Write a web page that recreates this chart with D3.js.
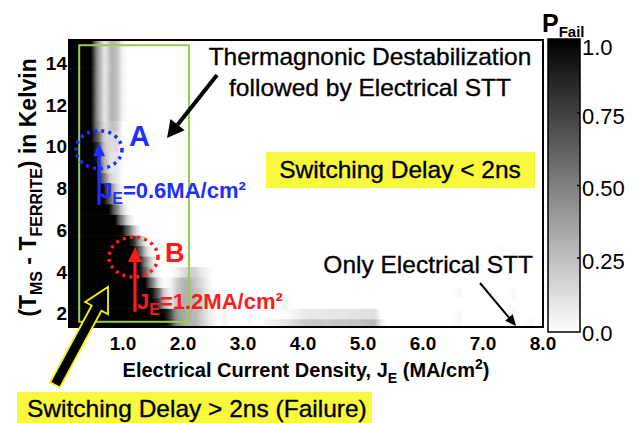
<!DOCTYPE html>
<html>
<head>
<meta charset="utf-8">
<script src="https://cdn.jsdelivr.net/npm/d3@7"></script>
<style>
  html, body { margin: 0; padding: 0; background: #fff; }
  svg { display: block; font-family: "Liberation Sans", Arial, sans-serif; }
  text { white-space: pre; }
</style>
</head>
<body>
<svg id="chart" width="636" height="423"></svg>
<script>
// Temperature offset rows (K) and current-density columns (MA/cm^2) of the failure map
const deltaT = [1.5, 2.0, 2.5, 3.0, 3.5, 4.0, 4.5, 5.0, 5.5, 6.0, 6.5, 7.0, 7.5, 8.0,
                8.5, 9.0, 9.5, 10.0, 10.5, 11.0, 11.5, 12.0, 12.5, 13.0, 13.5, 14.0, 14.5, 15.0];
const currentDensity = [0.1, 0.2, 0.3, 0.4, 0.5, 0.6, 0.7, 0.8, 0.9, 1.0,
                        1.1, 1.2, 1.3, 1.4, 1.5, 1.6, 1.7, 1.8, 1.9, 2.0,
                        2.1, 2.2, 2.3, 2.4, 2.5, 2.6, 2.7, 2.8, 2.9, 3.0,
                        3.1, 3.2, 3.3, 3.4, 3.5, 3.6, 3.7, 3.8, 3.9, 4.0,
                        4.1, 4.2, 4.3, 4.4, 4.5, 4.6, 4.7, 4.8, 4.9, 5.0,
                        5.1, 5.2, 5.3, 5.4, 5.5, 5.6, 5.7, 5.8, 5.9, 6.0,
                        6.1, 6.2, 6.3, 6.4, 6.5, 6.6, 6.7, 6.8, 6.9, 7.0,
                        7.1, 7.2, 7.3, 7.4, 7.5, 7.6, 7.7, 7.8, 7.9, 8.0];

// Failure probability per deltaT row, listed from J = 0.1 upward; columns not listed are 0
const pFailLeading = [
  [1,1,1,1,1,1,1,1,1,1,1,1,1,1,1,1,1, .85,.45,.35,.3,.3,.22,.12,.05],   // 1.5
  [1,1,1,1,1,1,1,1,1,1,1,1,1,1,1,1,1, .75,.4,.35,.3,.28,.2,.1,.04],     // 2.0
  [1,1,1,1,1,1,1,1,1,1,1,1,1,1,1, .8,.3,.1,.25,.32,.3,.28,.2,.1,.04],   // 2.5
  [1,1,1,1,1,1,1,1,1,1,1,1,1,1,1, .6,.15,.05,.2,.3,.3,.25,.18,.08],     // 3.0
  [1,1,1,1,1,1,1,1,1,1,1,1,1,1, .5,.1,0,.05,.2,.3,.3,.22,.15,.06],      // 3.5
  [1,1,1,1,1,1,1,1,1,1,1,1,1, .55,.15,0,0,0,.05,.12,.2,.18,.1,.04],     // 4.0
  [1,1,1,1,1,1,1,1,1,1,1,1,1, .4,.1],                                   // 4.5
  [1,1,1,1,1,1,1,1,1,1,1,1, .6,.15],                                    // 5.0
  [1,1,1,1,1,1,1,1,1,1,1, .8,.3],                                       // 5.5
  [1,1,1,1,1,1,1,1,1,1, .6,.2],                                         // 6.0
  [1,1,1,1,1,1,1,1,1, .45,.1],                                          // 6.5
  [1,1,1,1,1,1,1,1, .5,.15],                                            // 7.0
  [1,1,1,1,1,1,1, .6,.2],                                               // 7.5
  [1,1,1,1,1,1,1, .5,.15],                                              // 8.0
  [1,1,1,1,1,1, .5,.15,.1],                                             // 8.5
  [1,1,1,1,1,1, .3,.1,.1],                                              // 9.0
  [1,1,1,1,1, .9,.25,.1,.12],                                           // 9.5
  [1,1,1,1,1, .8,.2,.12,.15],                                           // 10.0
  [1,1,1,1,1, .6,.15,.15,.15],                                          // 10.5
  [1,1,1,1,1, .4,.1,.25,.2],                                            // 11.0
  [1,1,1,1,1, .35,.08,.3,.25,.03],                                      // 11.5
  [1,1,1,1,1, .35,.08,.3,.25,.03],                                      // 12.0
  [1,1,1,1,1, .35,.08,.3,.25,.03],                                      // 12.5
  [1,1,1,1,1, .35,.08,.3,.25,.03],                                      // 13.0
  [1,1,1,1,1, .35,.08,.3,.25,.03],                                      // 13.5
  [1,1,1,1,1, .35,.08,.3,.25,.03],                                      // 14.0
  [1,1,1,1,1, .35,.08,.3,.25,.03],                                      // 14.5
  [1,1,1,1,1, .35,.08,.3,.25,.03]                                       // 15.0
];

// Isolated non-zero cells further out: [deltaT, J, P_fail]
const pFailSpots = [
  [1.5, 3.4, .04], [1.5, 3.5, .05], [1.5, 3.6, .07], [1.5, 3.7, .1], [1.5, 3.8, .12], [1.5, 3.9, .16],
  [1.5, 4.0, .2], [1.5, 4.1, .22], [1.5, 4.2, .21], [1.5, 4.3, .22], [1.5, 4.4, .2],
  [1.5, 4.5, .22], [1.5, 4.6, .23], [1.5, 4.7, .22], [1.5, 4.8, .24], [1.5, 4.9, .23],
  [1.5, 5.0, .25], [1.5, 5.1, .26], [1.5, 5.2, .28], [1.5, 5.3, .08],
  [2.0, 3.8, .03], [2.0, 3.9, .05], [2.0, 4.0, .08], [2.0, 4.1, .09], [2.0, 4.2, .09],
  [2.0, 4.3, .09], [2.0, 4.4, .09], [2.0, 4.5, .1], [2.0, 4.6, .1], [2.0, 4.7, .1],
  [2.0, 4.8, .11], [2.0, 4.9, .11], [2.0, 5.0, .12], [2.0, 5.1, .12], [2.0, 5.2, .13],
  [1.5, 2.7, .05], [2.0, 2.7, .05], [2.5, 2.7, .04], [3.0, 2.7, .03],
  [1.5, 3.1, .04], [2.0, 3.1, .03], [2.5, 3.7, .05],
  [1.5, 6.6, .04], [2.0, 6.6, .03], [3.0, 6.6, .03], [4.0, 6.6, .02],
  [1.5, 7.5, .05], [2.0, 7.5, .04], [3.0, 7.5, .03], [1.5, 7.8, .04], [5.0, 7.3, .02]
];

const xTicks = [1, 2, 3, 4, 5, 6, 7, 8];
const yTicks = [2, 4, 6, 8, 10, 12, 14];
const colorTicks = [0, 0.25, 0.5, 0.75, 1];

const FONT = '"Liberation Sans", Arial, sans-serif';
const BLUE = "#1f2fff", RED = "#ff1a1a", YELLOW = "#f8f83c", GREEN = "#92d050";

const svg = d3.select("#chart");
const plot = { left: 69, top: 40, right: 543, bottom: 327 };

const x = d3.scaleLinear().domain([0.1, 8.0]).range([plot.left, plot.right]);
const y = d3.scaleLinear().domain([1.35, 15.1]).range([plot.bottom, plot.top]);
const gray = d3.scaleLinear().domain([0, 1]).range(["#ffffff", "#000000"]);

// ---- grid of cells ----
const cells = [];
deltaT.forEach((t, r) => {
  const lead = pFailLeading[r];
  currentDensity.forEach((j, c) => {
    cells.push({ t, j, r, c, p: c < lead.length ? lead[c] : 0 });
  });
});
pFailSpots.forEach(([t, j, p]) => {
  const cell = cells.find(d => Math.abs(d.t - t) < 1e-6 && Math.abs(d.j - j) < 1e-6);
  if (cell) cell.p = p;
});

const defs = svg.append("defs");
defs.append("clipPath").attr("id", "plotClip")
  .append("rect")
  .attr("x", plot.left).attr("y", plot.top)
  .attr("width", plot.right - plot.left).attr("height", plot.bottom - plot.top);
defs.append("filter").attr("id", "interp")
  .attr("x", "-5%").attr("y", "-5%").attr("width", "110%").attr("height", "110%")
  .append("feGaussianBlur").attr("stdDeviation", "2 0.5");

const halfJ = 0.05, halfT = 0.25, pad = 14;
const lastC = currentDensity.length - 1, lastR = deltaT.length - 1;

const heat = svg.append("g").attr("clip-path", "url(#plotClip)")
  .append("g").attr("filter", "url(#interp)");
heat.selectAll("rect").data(cells).join("rect")
  .attr("x", d => x(d.j - halfJ) - (d.c === 0 ? pad : 0))
  .attr("width", d => x(d.j + halfJ) - x(d.j - halfJ) + 0.6 + (d.c === 0 ? pad : 0) + (d.c === lastC ? pad : 0))
  .attr("y", d => y(d.t + halfT) - (d.r === lastR ? pad : 0))
  .attr("height", d => y(d.t - halfT) - y(d.t + halfT) + 0.6 + (d.r === 0 ? pad : 0) + (d.r === lastR ? pad : 0))
  .attr("fill", d => gray(d.p));

// ---- frame ----
svg.append("rect")
  .attr("x", plot.left).attr("y", plot.top)
  .attr("width", plot.right - plot.left).attr("height", plot.bottom - plot.top)
  .attr("fill", "none").attr("stroke", "#000").attr("stroke-width", 2);

// ---- tick labels ----
svg.append("g").selectAll("text").data(xTicks).join("text")
  .attr("x", d => x(d)).attr("y", 350)
  .attr("text-anchor", "middle")
  .attr("font-family", FONT).attr("font-weight", "bold").attr("font-size", 19)
  .text(d => d.toFixed(1));

svg.append("g").selectAll("text").data(yTicks).join("text")
  .attr("x", 67).attr("y", d => y(d)).attr("dy", "0.36em")
  .attr("text-anchor", "end")
  .attr("font-family", FONT).attr("font-weight", "bold").attr("font-size", 19)
  .text(d => d);

// ---- axis titles ----
const xt = svg.append("text")
  .attr("x", (plot.left + plot.right) / 2).attr("y", 377)
  .attr("text-anchor", "middle")
  .attr("font-family", FONT).attr("font-weight", "bold").attr("font-size", 20);
xt.append("tspan").text("Electrical Current Density, J");
xt.append("tspan").attr("font-size", 14).attr("dy", 6).text("E");
xt.append("tspan").attr("dy", -6).text(" (MA/cm");
xt.append("tspan").attr("font-size", 14).attr("dy", -8).text("2");
xt.append("tspan").attr("dy", 8).text(")");

const yt = svg.append("text")
  .attr("transform", `translate(36,${(plot.top + plot.bottom) / 2 + 4}) rotate(-90)`)
  .attr("text-anchor", "middle")
  .attr("font-family", FONT).attr("font-weight", "bold").attr("font-size", 23);
yt.append("tspan").text("(T");
yt.append("tspan").attr("font-size", 16).attr("dy", 6).text("MS");
yt.append("tspan").attr("dy", -6).text(" - T");
yt.append("tspan").attr("font-size", 16).attr("dy", 6).text("FERRITE");
yt.append("tspan").attr("dy", -6).text(") in Kelvin");

// ---- colour bar ----
const cb = { left: 548, right: 580, top: 39, bottom: 332 };
const cy = d3.scaleLinear().domain([0, 1]).range([330.5, 40.5]);
const grad = defs.append("linearGradient").attr("id", "cbGrad")
  .attr("x1", 0).attr("y1", 1).attr("x2", 0).attr("y2", 0);
grad.append("stop").attr("offset", "0%").attr("stop-color", gray(0));
grad.append("stop").attr("offset", "100%").attr("stop-color", gray(1));
svg.append("rect")
  .attr("x", cb.left).attr("y", cb.top)
  .attr("width", cb.right - cb.left).attr("height", cb.bottom - cb.top)
  .attr("fill", "url(#cbGrad)").attr("stroke", "#000").attr("stroke-width", 1.5);
svg.append("g").selectAll("line").data(colorTicks.filter(v => v > 0 && v < 1)).join("line")
  .attr("x1", cb.right - 3).attr("x2", cb.right)
  .attr("y1", d => cy(d)).attr("y2", d => cy(d))
  .attr("stroke", "#000").attr("stroke-width", 1.5);
svg.append("g").selectAll("text").data(colorTicks).join("text")
  .attr("x", 582).attr("y", d => Math.max(cy(d) + 3, 47)).attr("dy", "0.36em")
  .attr("font-family", FONT).attr("font-size", 22)
  .text(d => (d === 0 || d === 1) ? d.toFixed(1) : d.toFixed(2));
const pt = svg.append("text").attr("x", 542).attr("y", 32)
  .attr("font-family", FONT).attr("font-weight", "bold").attr("font-size", 25);
pt.append("tspan").text("P");
pt.append("tspan").attr("font-size", 15).attr("dy", 5).text("Fail");

// ---- annotations ----
// region box around the thermally assisted failure zone
svg.append("rect")
  .attr("x", x(0.27)).attr("y", y(14.85))
  .attr("width", x(2.1) - x(0.27)).attr("height", y(1.6) - y(14.85))
  .attr("fill", "none").attr("stroke", GREEN).attr("stroke-width", 2);

function headPoints(x1, y1, x2, y2, len, half) {
  const L = Math.hypot(x2 - x1, y2 - y1), ux = (x2 - x1) / L, uy = (y2 - y1) / L;
  const bx = x2 - ux * len, by = y2 - uy * len;
  return { base: [bx, by], pts: [[x2, y2], [bx - uy * half, by + ux * half], [bx + uy * half, by - ux * half]] };
}
function arrow(x1, y1, x2, y2, color, width, len, half) {
  const h = headPoints(x1, y1, x2, y2, len, half);
  svg.append("line").attr("x1", x1).attr("y1", y1)
    .attr("x2", h.base[0]).attr("y2", h.base[1])
    .attr("stroke", color).attr("stroke-width", width);
  svg.append("polygon").attr("points", h.pts.map(p => p.join(",")).join(" ")).attr("fill", color);
}

// operating points A (J = 0.6) and B (J = 1.2)
const pointA = { j: 0.6, from: 7.2, to: 10.15, cT: 9.85 };
const pointB = { j: 1.2, from: 2.08, to: 5.18, cT: 4.7 };

svg.append("ellipse")
  .attr("cx", x(pointA.j)).attr("cy", y(pointA.cT)).attr("rx", 23).attr("ry", 19)
  .attr("fill", "none").attr("stroke", BLUE).attr("stroke-width", 3.5)
  .attr("stroke-dasharray", "3 4.2");
svg.append("ellipse")
  .attr("cx", x(pointB.j) - 1.5).attr("cy", y(pointB.cT)).attr("rx", 24.5).attr("ry", 20)
  .attr("fill", "none").attr("stroke", RED).attr("stroke-width", 3.5)
  .attr("stroke-dasharray", "3 4.2");

arrow(x(pointA.j), y(pointA.from), x(pointA.j), y(pointA.to), BLUE, 3.2, 13, 6);
arrow(x(pointB.j), y(pointB.from), x(pointB.j), y(pointB.to), RED, 3.2, 15, 7);

svg.append("text").attr("x", 129).attr("y", 146)
  .attr("font-family", FONT).attr("font-weight", "bold").attr("font-size", 29)
  .attr("fill", BLUE).text("A");
svg.append("text").attr("x", 165).attr("y", 262)
  .attr("font-family", FONT).attr("font-weight", "bold").attr("font-size", 27)
  .attr("fill", RED).text("B");

function jLabel(xp, yp, value, color) {
  const t = svg.append("text").attr("x", xp).attr("y", yp)
    .attr("font-family", FONT).attr("font-weight", "bold").attr("font-size", 22)
    .attr("fill", color);
  t.append("tspan").text("J");
  t.append("tspan").attr("font-size", 16).attr("dy", 6).text("E");
  t.append("tspan").attr("dy", -6).text(`=${value.toFixed(1)}MA/cm²`);
}
jLabel(x(pointA.j) + 1, 198, pointA.j, BLUE);
jLabel(x(pointB.j) + 2, 309, pointB.j, RED);

// text callouts (slightly heavier stroke for the regular-weight captions)
function caption(xp, yp, anchor, str) {
  return svg.append("text").attr("x", xp).attr("y", yp).attr("text-anchor", anchor)
    .attr("font-family", FONT).attr("font-size", 24.5)
    .attr("stroke", "#000").attr("stroke-width", 0.35)
    .text(str);
}
caption(370, 65, "middle", "Thermagnonic Destabilization");
caption(370, 96, "middle", "followed by Electrical STT");
arrow(217, 75, 167, 138, "#000", 4, 17, 9);

svg.append("rect").attr("x", 266).attr("y", 152).attr("width", 269).attr("height", 36).attr("fill", YELLOW);
caption(400, 178, "middle", "Switching Delay < 2ns");

caption(533, 273, "end", "Only Electrical STT");
arrow(480, 283, 516, 326, "#000", 2, 11, 5);

// block arrow pointing into the failure region
(function () {
  const x1 = 55, y1 = 385, x2 = 108, y2 = 287, sh = 5.5, hl = 24, hh = 13;
  const L = Math.hypot(x2 - x1, y2 - y1), ux = (x2 - x1) / L, uy = (y2 - y1) / L, nx = -uy, ny = ux;
  const bx = x2 - ux * hl, by = y2 - uy * hl;
  const pts = [
    [x1 + nx * sh, y1 + ny * sh], [bx + nx * sh, by + ny * sh], [bx + nx * hh, by + ny * hh],
    [x2, y2],
    [bx - nx * hh, by - ny * hh], [bx - nx * sh, by - ny * sh], [x1 - nx * sh, y1 - ny * sh]
  ];
  svg.append("polygon").attr("points", pts.map(p => p.join(",")).join(" "))
    .attr("fill", "#000").attr("stroke", "#f5f500").attr("stroke-width", 1.8)
    .attr("stroke-linejoin", "miter");
})();

svg.append("rect").attr("x", 17).attr("y", 392).attr("width", 355).attr("height", 31).attr("fill", YELLOW);
caption(27, 417, "start", "Switching Delay > 2ns (Failure)");
</script>
</body>
</html>
